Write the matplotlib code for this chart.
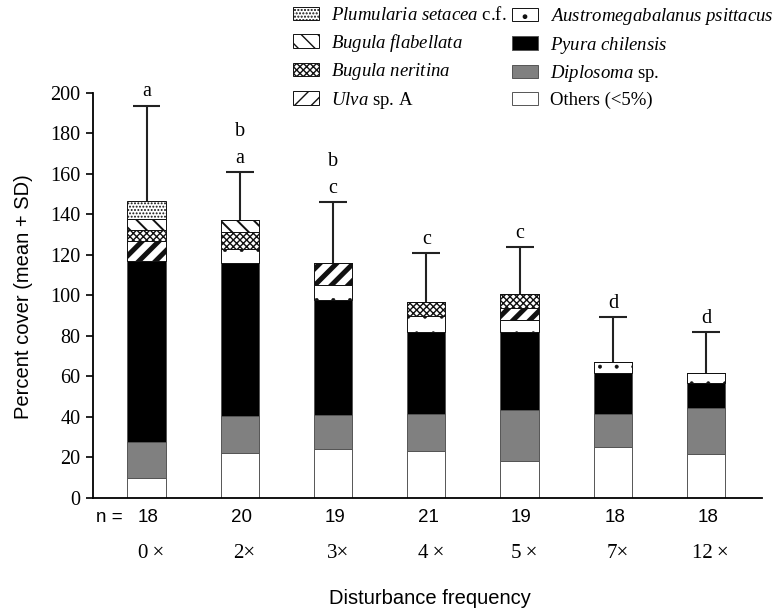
import numpy as np
import matplotlib
matplotlib.use('Agg')
import matplotlib.pyplot as plt
from matplotlib.patches import Patch

# disturbance treatments
frequencies = ['0\u2009\u00d7', '2\u00d7', '3\u00d7', '4\u2009\u00d7', '5\u2009\u00d7', '7\u00d7', '12\u2009\u00d7']
n_reps = ['18', '20', '19', '21', '19', '18', '18']

# percent cover per taxon, stacked bottom -> top
others = [10.0, 22.3, 24.0, 23.2, 18.4, 25.3, 21.9]
diplosoma = [17.5, 18.1, 16.8, 18.1, 24.8, 16.1, 22.6]
pyura = [89.4, 75.5, 56.9, 40.7, 38.8, 20.4, 12.1]
austromegabalanus = [0.0, 6.9, 7.4, 7.8, 5.8, 5.4, 5.2]
ulva = [9.9, 0.0, 10.6, 0.0, 6.1, 0.0, 0.0]
bugula_neritina = [5.4, 8.2, 0.0, 6.7, 6.6, 0.0, 0.0]
bugula_flabellata = [5.4, 6.3, 0.0, 0.0, 0.0, 0.0, 0.0]
plumularia = [9.0, 0.0, 0.0, 0.0, 0.0, 0.0, 0.0]

sd = [46.9, 23.5, 30.1, 24.2, 23.3, 22.1, 19.9]
letters = [['a'], ['a', 'b'], ['c', 'b'], ['c'], ['c'], ['d'], ['d']]

plt.rcParams['font.family'] = ['Liberation Serif', 'DejaVu Serif']
plt.rcParams['mathtext.fontset'] = 'custom'
plt.rcParams['mathtext.it'] = 'Liberation Serif:italic'
plt.rcParams['mathtext.rm'] = 'Liberation Serif'

# label, values, face, hatch, hatch linewidth
layers = [
    ('Others (<5%)', others, 'white', None, 1.0),
    (r'$\mathit{Diplosoma}$ sp.', diplosoma, '#808080', None, 1.0),
    (r'$\mathit{Pyura\ chilensis}$', pyura, 'black', None, 1.0),
    (r'$\mathit{Austromegabalanus\ psittacus}$', austromegabalanus, 'white', '.', 0.4),
    (r'$\mathit{Ulva}$ sp. A', ulva, 'white', '//', 3.6),
    (r'$\mathit{Bugula\ neritina}$', bugula_neritina, 'white', 'xxxxx', 1.0),
    (r'$\mathit{Bugula\ flabellata}$', bugula_flabellata, 'white', '\\\\', 1.4),
    (r'$\mathit{Plumularia\ setacea}$ c.f.', plumularia, 'white', '.....', 0.9),
]

fig = plt.figure(figsize=(7.74, 6.13), dpi=100)
ax = fig.add_axes([0.120, 0.1876, 0.864, 0.6615])

x = np.arange(len(frequencies))
width = 0.41
bottom = np.zeros(len(x))
handles = {}
for label, vals, face, hatch, hlw in layers:
    vals = np.array(vals)
    edge = '#555555' if hatch is None else '#111111'
    bars = ax.bar(x, vals, width, bottom=bottom, color=face, edgecolor=edge,
                  linewidth=0.7, hatch=hatch, zorder=2)
    for b in bars:
        if hasattr(b, 'set_hatch_linewidth'):
            b.set_hatch_linewidth(hlw)
    h = Patch(facecolor=face, edgecolor=edge, linewidth=0.7, hatch=hatch)
    if hasattr(h, 'set_hatch_linewidth'):
        h.set_hatch_linewidth(hlw)
    handles[label] = h
    bottom = bottom + vals

totals = bottom
tops = totals + np.array(sd)
cap = 0.15
ax.vlines(x, totals, tops, color='#222222', linewidth=1.5, zorder=3)
ax.hlines(tops, x - cap, x + cap, color='#222222', linewidth=1.5, zorder=3)

for xi, top, ls in zip(x, tops, letters):
    for k, letter in enumerate(ls):
        ax.annotate(letter, (xi, top), xytext=(0, 10 + 19.5 * k), textcoords='offset points',
                    ha='center', va='center', fontsize=14.5)

ax.set_ylim(0, 200)
ax.set_xlim(-0.575, 6.595)
ax.set_yticks(np.arange(0, 201, 20))
ax.tick_params(axis='y', direction='out', length=5, width=1.2, labelsize=14.5, pad=4)
ax.set_xticks([])
for s in ['top', 'right']:
    ax.spines[s].set_visible(False)
for s in ['left', 'bottom']:
    ax.spines[s].set_linewidth(1.3)

sans = ['Liberation Sans', 'DejaVu Sans']
xtr = ax.get_xaxis_transform()
ax.text(-0.40, -0.047, 'n =', transform=xtr, ha='center', va='center', fontsize=13.5, family=sans)
for xi, n, f in zip(x, n_reps, frequencies):
    ax.text(xi + 0.02, -0.047, n, transform=xtr, ha='center', va='center', fontsize=13.5, family=sans)
    ax.text(xi + 0.05, -0.136, f, transform=xtr, ha='center', va='center', fontsize=15)

fig.text(0.556, 1 - 598 / 613, 'Disturbance frequency', ha='center', va='center',
         fontsize=14.5, family=sans)
fig.text(0.030, 1 - 297 / 613, 'Percent cover (mean + SD)', ha='center', va='center',
         rotation=90, fontsize=14.5, family=sans)

# two legend columns placed separately
col1 = [r'$\mathit{Plumularia\ setacea}$ c.f.', r'$\mathit{Bugula\ flabellata}$',
        r'$\mathit{Bugula\ neritina}$', r'$\mathit{Ulva}$ sp. A']
col2 = [r'$\mathit{Austromegabalanus\ psittacus}$', r'$\mathit{Pyura\ chilensis}$',
        r'$\mathit{Diplosoma}$ sp.', 'Others (<5%)']
leg_kw = dict(frameon=False, loc='upper left', borderpad=0, borderaxespad=0,
              fontsize=13.5, handlelength=1.4, handleheight=0.75,
              handletextpad=0.6, labelspacing=0.4)
leg1 = fig.legend([handles[k] for k in col1], col1, bbox_to_anchor=(0.3786, 0.99), **leg_kw)
fig.legend([handles[k] for k in col2], col2, bbox_to_anchor=(0.6615, 0.99), **leg_kw)

fig.savefig('out.png', dpi=100)
